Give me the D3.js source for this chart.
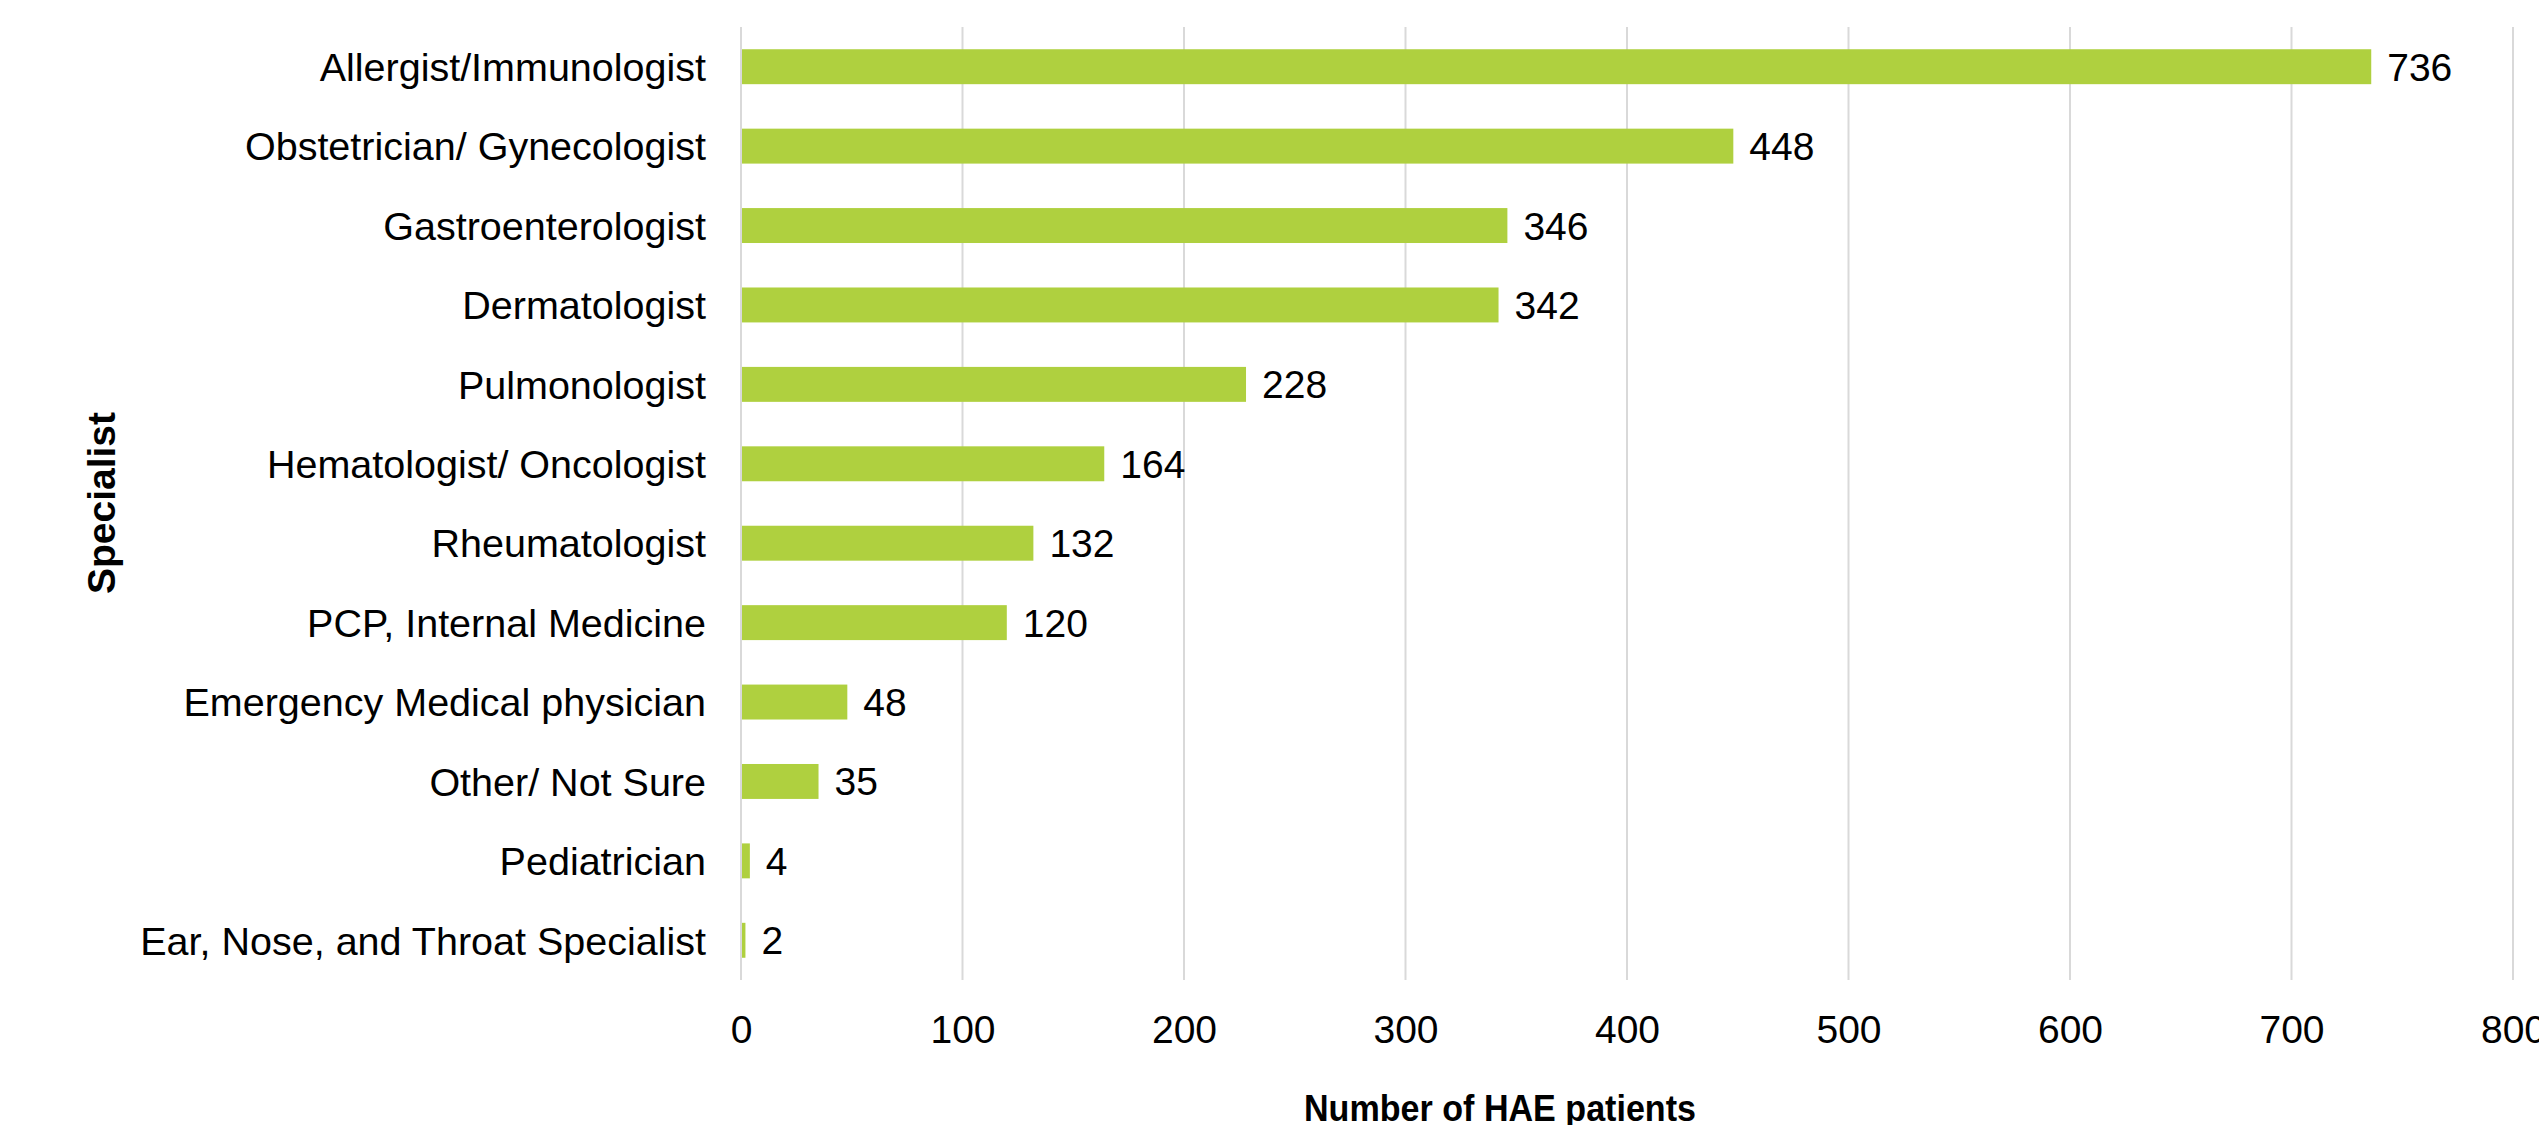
<!DOCTYPE html>
<html>
<head>
<meta charset="utf-8">
<script src="https://cdn.jsdelivr.net/npm/d3@7"></script>
<style>
  html, body { margin: 0; padding: 0; background: #fff; }
  svg { display: block; }
</style>
</head>
<body>
<svg id="chart" width="2539" height="1125"></svg>
<script>
const categories = [
  "Allergist/Immunologist",
  "Obstetrician/ Gynecologist",
  "Gastroenterologist",
  "Dermatologist",
  "Pulmonologist",
  "Hematologist/ Oncologist",
  "Rheumatologist",
  "PCP, Internal Medicine",
  "Emergency Medical physician",
  "Other/ Not Sure",
  "Pediatrician",
  "Ear, Nose, and Throat Specialist"
];
const values = [736, 448, 346, 342, 228, 164, 132, 120, 48, 35, 4, 2];
const xTicks = [0, 100, 200, 300, 400, 500, 600, 700, 800];
const xTitle = "Number of HAE patients";
const yTitle = "Specialist";

(function () {
const svg = d3.select("#chart");
const plotLeft = 741, plotRight = 2513, plotTop = 27, plotBottom = 980;

const x = d3.scaleLinear().domain([0, 800]).range([plotLeft, plotRight]);
const y = d3.scaleBand().domain(categories).range([plotTop, plotBottom]).paddingInner(0.56).paddingOuter(0.28);

// gridlines
svg.append("g").selectAll("line").data(xTicks).join("line")
  .attr("x1", d => x(d)).attr("x2", d => x(d))
  .attr("y1", plotTop).attr("y2", plotBottom)
  .attr("stroke", "#d9d9d9").attr("stroke-width", 2);

// bars
svg.append("g").selectAll("rect").data(values).join("rect")
  .attr("x", x(0) + 1)
  .attr("y", (d, i) => y(categories[i]))
  .attr("width", d => Math.max(0, x(d) - x(0) - 1))
  .attr("height", y.bandwidth())
  .attr("fill", "#afd03f");

// value labels
svg.append("g").selectAll("text").data(values).join("text")
  .attr("x", d => x(d) + 16)
  .attr("y", (d, i) => y(categories[i]) + y.bandwidth() / 2)
  .attr("dy", "0.36em")
  .attr("font-family", "Liberation Sans, Arial, sans-serif")
  .attr("font-size", 39)
  .attr("fill", "#000")
  .text(d => d);

// category labels (y axis)
const yAxis = d3.axisLeft(y).tickSize(0).tickPadding(0);
const yg = svg.append("g").attr("transform", `translate(706,0)`).call(yAxis);
yg.select(".domain").remove();
yg.selectAll("text")
  .attr("font-family", "Liberation Sans, Arial, sans-serif")
  .attr("font-size", 39.5)
  .attr("fill", "#000")
  .attr("dy", "0.36em");

// x axis tick labels
const xAxis = d3.axisBottom(x).tickValues(xTicks).tickSize(0).tickPadding(0);
const xg = svg.append("g").attr("transform", `translate(0,1043)`).call(xAxis);
xg.select(".domain").remove();
xg.selectAll("text")
  .attr("font-family", "Liberation Sans, Arial, sans-serif")
  .attr("font-size", 39)
  .attr("fill", "#000")
  .attr("dy", 0)
  .attr("y", 0);

// axis titles
svg.append("text")
  .attr("x", 1500).attr("y", 1121)
  .attr("text-anchor", "middle")
  .attr("font-family", "Liberation Sans, Arial, sans-serif")
  .attr("font-weight", "bold")
  .attr("font-size", 37)
  .attr("textLength", 392).attr("lengthAdjust", "spacingAndGlyphs")
  .attr("fill", "#000")
  .text(xTitle);

svg.append("text")
  .attr("transform", "translate(115,503) rotate(-90)")
  .attr("text-anchor", "middle")
  .attr("font-family", "Liberation Sans, Arial, sans-serif")
  .attr("font-weight", "bold")
  .attr("font-size", 39)
  .attr("fill", "#000")
  .text(yTitle);
})();
</script>
</body>
</html>
